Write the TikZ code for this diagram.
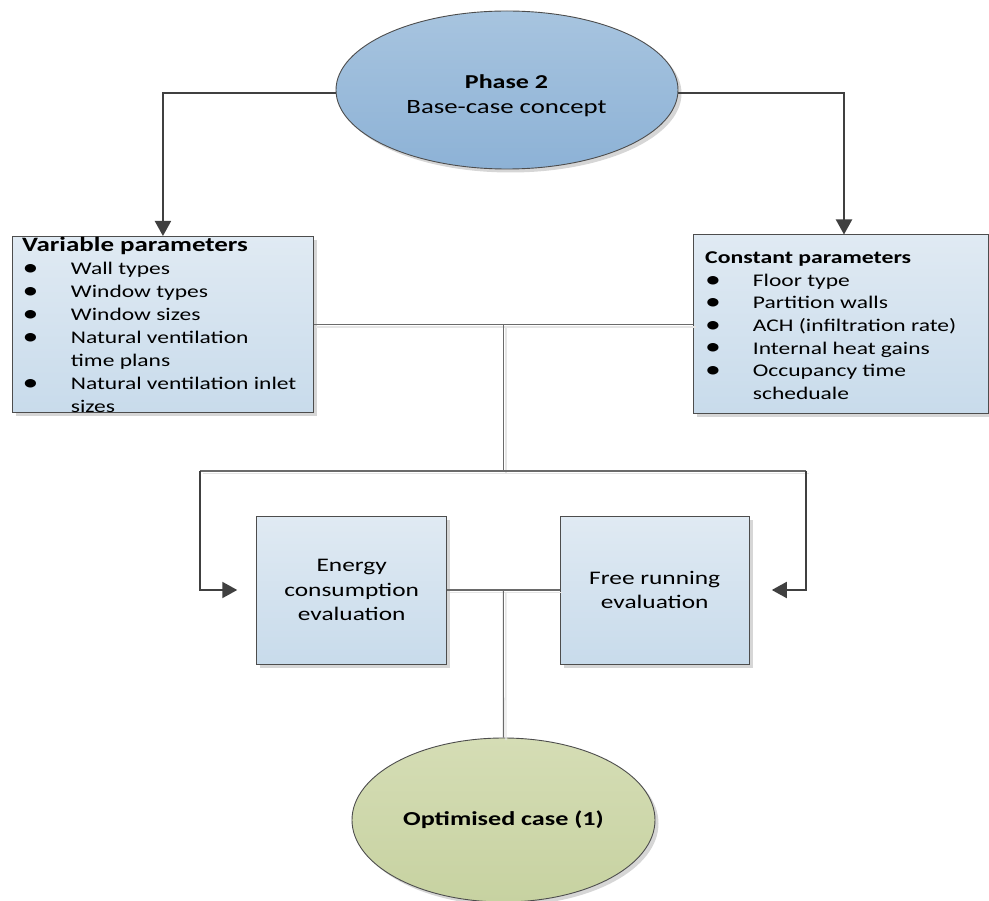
\documentclass[tikz,border=0pt]{standalone}
\usepackage{fontspec}
\usepackage{graphicx}
\setmainfont{Carlito}[FakeStretch=1.32]
\usetikzlibrary{shapes.geometric,arrows.meta,shadows}

\definecolor{edge}{HTML}{4D4D4D}
\definecolor{arrowgray}{HTML}{404040}
\definecolor{conngray}{HTML}{6A6A6A}
\definecolor{boxtop}{HTML}{E0EAF3}
\definecolor{boxbot}{HTML}{C8DBEB}
\definecolor{bluetop}{HTML}{A7C4DF}
\definecolor{bluebot}{HTML}{8DB2D6}
\definecolor{greentop}{HTML}{D5DDB5}
\definecolor{greenbot}{HTML}{C7D2A1}

\newcommand\fsz[2]{\fontsize{#1}{#2}\selectfont}
% bullet column of the parameter lists
\newcommand\bigbul{\raisebox{-0.9pt}{\scalebox{1.35}{\textbullet}}}
\newcommand\itmL{\makebox[48.7pt][l]{\hspace{0.5pt}\bigbul}}
\newcommand\contL{\hspace*{48.7pt}}
\newcommand\itmR{\makebox[47.7pt][l]{\bigbul}}
\newcommand\contR{\hspace*{47.7pt}}

\tikzset{
  softshadow/.style={drop shadow={shadow xshift=3.5pt, shadow yshift=-3.5pt,
      fill=black, opacity=0.16}},
  pbox/.style={draw=edge, line width=0.9pt, top color=boxtop, bottom color=boxbot,
      softshadow, inner sep=0pt, align=center},
  ovalblue/.style={ellipse, draw=edge, line width=0.9pt, top color=bluetop,
      bottom color=bluebot, softshadow, inner sep=0pt},
  ovalgreen/.style={ellipse, draw=edge, line width=0.9pt, top color=greentop,
      bottom color=greenbot, softshadow, inner sep=0pt},
  arrowline/.style={draw=arrowgray, line width=2pt,
      -{Triangle[length=15pt,width=16pt]}},
  conn/.style={draw=conngray, line width=1.1pt,
      preaction={draw=black!10, line width=1.4pt,
        transform canvas={xshift=2.5pt, yshift=-2.5pt}}},
  listtext/.style={anchor=north west, inner sep=0pt, align=left},
}

\begin{document}
\begin{tikzpicture}[x=1pt,y=-1pt]
\useasboundingbox (0,0) rectangle (989,901);
\fill[white] (0,0) rectangle (989,901);

% top ellipse
\node[ovalblue, minimum width=342pt, minimum height=158pt] (phase) at (507,90) {};
\node[anchor=base, inner sep=0pt, font=\bfseries\fsz{19.7}{24}] (phaseT) at (506.5,88.3) {Phase 2};
\node[anchor=base, inner sep=0pt, font=\fsz{20.3}{24}] (baseT) at (506.5,113.3) {Base-case concept};

% parameter boxes
\node[pbox, anchor=north west, minimum width=301pt, minimum height=176.5pt] (var) at (12,236) {};
\node[listtext, font=\fsz{17.8}{22.9}] (varT) at (22,237.2)
  {\rule{0pt}{14.5pt}{\bfseries\fsz{20.4}{22.9}Variable parameters}\\
   \itmL Wall types\\
   \itmL Window types\\
   \itmL Window sizes\\
   \itmL Natural ventilation\\
   \contL time plans\\
   \itmL Natural ventilation inlet\\
   \contL sizes};

\node[pbox, anchor=north west, minimum width=295pt, minimum height=179pt] (con) at (693,234.5) {};
\node[listtext, font=\fsz{17.8}{22.6}] (conT) at (705,249.5)
  {\rule{0pt}{14pt}{\bfseries\fsz{18}{22.6}Constant parameters}\\
   \itmR Floor type\\
   \itmR Partition walls\\
   \itmR ACH (infiltration rate)\\
   \itmR Internal heat gains\\
   \itmR Occupancy time\\
   \contR scheduale};

% evaluation boxes
\node[pbox, minimum width=190pt, minimum height=148pt, font=\fsz{19.2}{24.2}] (energy) at (351.7,590)
  {Energy\\consumption\\evaluation};
\node[pbox, minimum width=189.3pt, minimum height=148pt, font=\fsz{19.2}{23.3}] (free) at (654.7,590)
  {Free running\\evaluation};

% result ellipse
\node[ovalgreen, minimum width=303pt, minimum height=164pt, font=\bfseries\fsz{19.8}{24}] (opt) at (503.5,820)
  {Optimised case (1)};

% junction points
\coordinate (pl) at (336,93.3);
\coordinate (pr) at (678,93.3);
\coordinate (prc) at (844,93.3);
\coordinate (j1) at (503.3,324.3);
\coordinate (j2) at (503.3,471);
\coordinate (bl) at (200,471);
\coordinate (br) at (806,471);
\coordinate (j3) at (503.3,590);

% connectors
\draw[arrowline] (pl) -| (var.north);
\draw[arrowline] (pr) -- (prc) -- (prc |- con.north);
\draw[conn] (var.east) -- (var.east -| con.west);
\draw[conn] (j1) -- (j2);
\draw[conn] (bl) -- (br);
\draw[arrowline] (bl) |- ([xshift=-19pt]energy.west);
\draw[arrowline] (br) |- ([xshift=22pt]free.east);
\draw[conn] (energy.east) -- (free.west);
\draw[conn] (j3) -- (opt.north);
\end{tikzpicture}
\end{document}
